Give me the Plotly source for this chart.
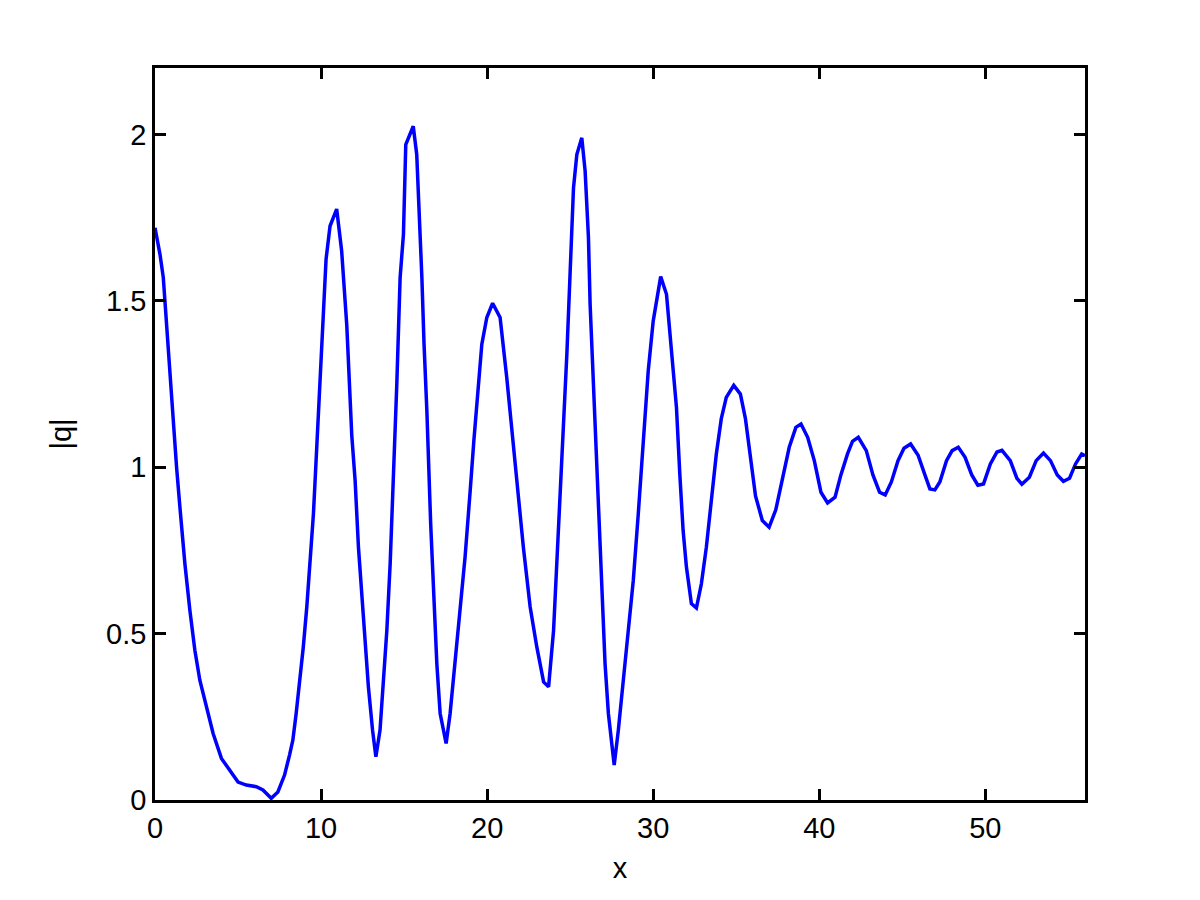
import plotly.graph_objects as go

x_vals = [0, 0.3, 0.5, 0.66, 0.84, 1.0, 1.14, 1.3, 1.5, 1.8, 2.1, 2.4, 2.7, 3.0, 3.5, 4.0, 4.5,
          5.0, 5.5, 6.1, 6.5, 7.0, 7.4, 7.8, 8.1, 8.3, 8.5, 8.73, 8.93, 9.14, 9.34, 9.54, 9.74,
          10.04, 10.3, 10.54, 10.94, 11.24, 11.55, 11.85, 12.05, 12.25, 12.45, 12.65, 12.85,
          13.1, 13.3, 13.55, 13.75, 13.96, 14.16, 14.36, 14.56, 14.76, 14.96, 15.1, 15.55,
          15.76, 15.92, 16.07, 16.2, 16.37, 16.6, 16.77, 16.97, 17.17, 17.53, 17.77, 18.07,
          18.37, 18.67, 18.98, 19.2, 19.68, 19.98, 20.33, 20.78, 21.18, 21.5, 21.8, 22.18,
          22.59, 22.99, 23.4, 23.7, 24.0, 24.2, 24.4, 24.6, 24.8, 25.0, 25.2, 25.4, 25.7,
          25.9, 26.1, 26.2, 26.36, 26.55, 26.7, 26.9, 27.1, 27.3, 27.65, 27.9, 28.2, 28.5,
          28.8, 29.1, 29.4, 29.7, 30.0, 30.45, 30.8, 31.1, 31.4, 31.6, 31.8, 32.0, 32.3,
          32.6, 32.9, 33.2, 33.5, 33.8, 34.1, 34.4, 34.85, 35.25, 35.55, 35.86, 36.16, 36.57,
          36.98, 37.38, 37.78, 38.19, 38.59, 38.9, 39.3, 39.7, 40.1, 40.5, 40.95, 41.3, 41.7,
          42.0, 42.35, 42.83, 43.23, 43.63, 43.97, 44.34, 44.74, 45.1, 45.5, 45.95, 46.36,
          46.66, 46.96, 47.26, 47.66, 48.0, 48.37, 48.78, 49.18, 49.55, 49.89, 50.3, 50.7,
          51.0, 51.5, 51.9, 52.2, 52.65, 53.06, 53.5, 53.92, 54.33, 54.7, 55.07, 55.43, 55.8, 56.0]

q_vals = [1.72, 1.64, 1.57, 1.45, 1.33, 1.22, 1.11, 1.0, 0.88, 0.71, 0.57, 0.45, 0.36, 0.30, 0.20,
          0.125, 0.09, 0.054, 0.045, 0.04, 0.03, 0.005, 0.024, 0.075, 0.135, 0.18, 0.26, 0.36,
          0.46, 0.58, 0.71, 0.86, 1.06, 1.38, 1.625, 1.725, 1.776, 1.65, 1.425, 1.095, 0.96,
          0.76, 0.61, 0.46, 0.34, 0.21, 0.13, 0.21, 0.36, 0.51, 0.71, 0.96, 1.25, 1.57, 1.70,
          1.97, 2.025, 1.94, 1.77, 1.57, 1.37, 1.17, 0.83, 0.61, 0.41, 0.26, 0.17, 0.26, 0.41,
          0.56, 0.73, 0.93, 1.08, 1.37, 1.45, 1.493, 1.45, 1.27, 1.10, 0.96, 0.76, 0.58, 0.46,
          0.355, 0.34, 0.51, 0.71, 0.91, 1.10, 1.34, 1.59, 1.84, 1.94, 1.99, 1.89, 1.69, 1.49,
          1.29, 1.10, 0.91, 0.66, 0.41, 0.26, 0.105, 0.21, 0.36, 0.51, 0.66, 0.86, 1.08, 1.29,
          1.44, 1.573, 1.52, 1.34, 1.18, 0.98, 0.81, 0.70, 0.59, 0.577, 0.65, 0.76, 0.91, 1.04,
          1.146, 1.21, 1.246, 1.22, 1.147, 1.02, 0.914, 0.84, 0.82, 0.872, 0.967, 1.06, 1.12,
          1.13, 1.09, 1.02, 0.925, 0.893, 0.91, 0.977, 1.04, 1.078, 1.09, 1.05, 0.977, 0.925,
          0.917, 0.956, 1.02, 1.057, 1.07, 1.036, 0.977, 0.935, 0.932, 0.956, 1.02, 1.05, 1.06,
          1.03, 0.977, 0.946, 0.95, 1.01, 1.046, 1.051, 1.02, 0.967, 0.949, 0.97, 1.02, 1.043,
          1.02, 0.977, 0.958, 0.967, 1.01, 1.04, 1.035]

x_ticks = [0, 10, 20, 30, 40, 50]
y_ticks = [0, 0.5, 1, 1.5, 2]
y_tick_text = ["0", "0.5", "1", "1.5", "2"]

font = dict(family="Liberation Sans, Arial, sans-serif", size=29, color="black")

fig = go.Figure()
fig.add_trace(go.Scatter(x=x_vals, y=q_vals, mode="lines",
                         line=dict(color="#0000ff", width=3.5), showlegend=False))

axis_common = dict(showline=True, linecolor="black", linewidth=2.5, mirror="ticks",
                   ticks="inside", ticklen=11, tickwidth=2.5, tickcolor="black",
                   showgrid=False, zeroline=False, tickfont=font)

fig.update_xaxes(range=[0, 56], tickvals=x_ticks, ticktext=[str(t) for t in x_ticks],
                 title=dict(text="x", font=font, standoff=16), **axis_common)
fig.update_yaxes(range=[0, 2.2], tickvals=y_ticks, ticktext=y_tick_text,
                 title=dict(text="|q|", font=font, standoff=26), **axis_common)

fig.update_layout(width=1200, height=900, paper_bgcolor="white", plot_bgcolor="white",
                  margin=dict(l=147, r=123, t=60, b=108, autoexpand=False), font=font)

fig.write_html("out.html")
